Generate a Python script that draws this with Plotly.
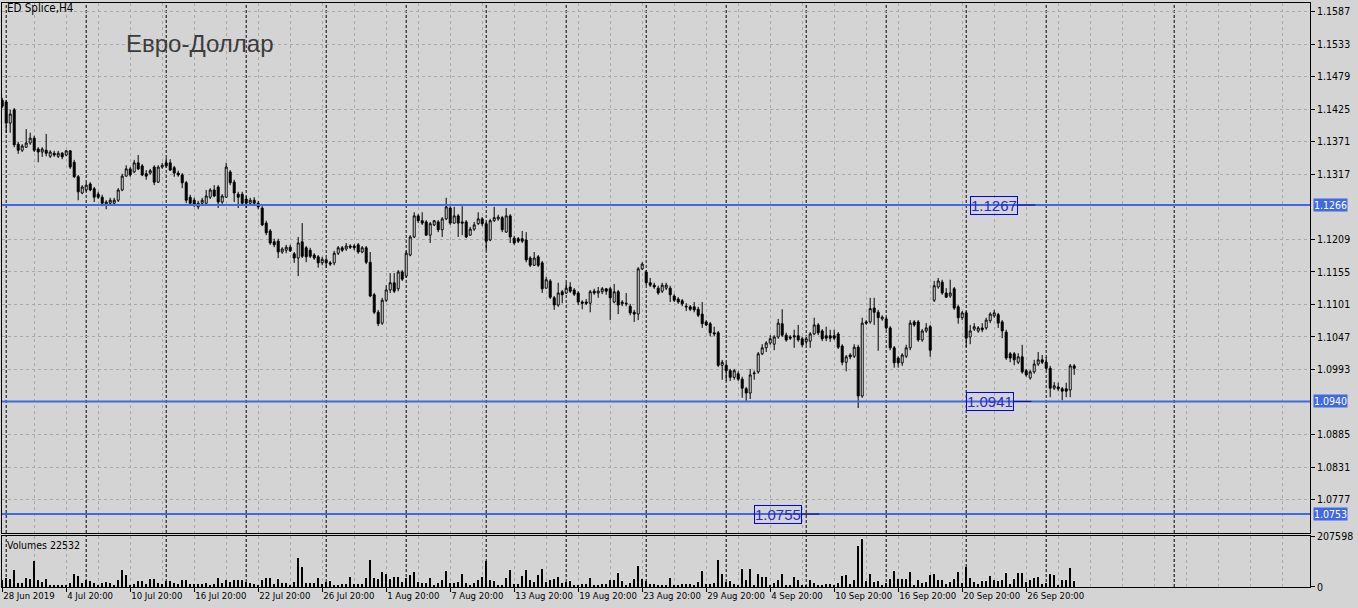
import plotly.graph_objects as go
from plotly.subplots import make_subplots

# ---------------- data (prices in pips: 11440 -> 1.1440) ----------------
open_pips = [11440,11437,11402,11424,11367,11357,11362,11369,11377,11359,
 11354,11357,11347,11352,11347,11352,11349,11356,11337,11313,
 11286,11291,11301,11293,11284,11279,11268,11269,11269,11274,
 11291,11314,11326,11321,11336,11331,11318,11319,11329,11304,
 11329,11336,11336,11328,11319,11316,11303,11279,11274,11263,
 11269,11269,11279,11291,11296,11271,11279,11321,11304,11284,
 11284,11276,11269,11274,11269,11261,11236,11223,11205,11206,
 11188,11191,11196,11185,11178,11205,11195,11191,11183,11180,
 11170,11175,11170,11170,11186,11195,11193,11198,11198,11200,
 11188,11195,11171,11117,11088,11070,11108,11125,11137,11127,
 11155,11148,11183,11213,11248,11240,11238,11216,11233,11238,
 11225,11243,11261,11236,11248,11238,11238,11216,11226,11235,
 11243,11235,11208,11240,11243,11245,11221,11248,11211,11210,
 11210,11208,11178,11166,11180,11170,11128,11140,11112,11100,
 11122,11120,11130,11125,11120,11105,11105,11103,11123,11120,
 11122,11127,11127,11105,11122,11102,11103,11098,11088,11085,
 11160,11155,11137,11133,11128,11123,11128,11128,11115,11110,
 11107,11098,11097,11097,11093,11085,11072,11069,11054,11054,
 11000,11000,10991,10980,10986,10977,10961,10954,10986,10989,
 11019,11029,11037,11035,11047,11069,11050,11047,11049,11049,
 11044,11039,11040,11052,11067,11057,11049,11049,11049,11052,
 11032,11005,11017,11015,11030,10949,11072,11072,11095,11088,
 11077,11077,11062,11029,11012,11004,11015,11029,11072,11072,
 11042,11057,11064,11108,11130,11138,11120,11115,11127,11097,
 11079,11087,11047,11060,11057,11062,11062,11074,11082,11084,
 11072,11055,11019,11019,11005,11014,10991,10979,10989,11002,
 11009,11005,10995,10962,10964,10961,10961,10959,10999]

high_pips = [11444,11440,11424,11427,11371,11367,11392,11386,11381,11362,
 11362,11384,11357,11356,11356,11354,11357,11357,11341,11316,
 11299,11303,11304,11296,11288,11283,11274,11278,11278,11294,
 11318,11332,11329,11341,11349,11334,11324,11326,11332,11332,
 11336,11344,11342,11331,11323,11319,11306,11283,11278,11273,
 11278,11291,11294,11299,11299,11284,11336,11324,11308,11288,
 11288,11281,11278,11279,11273,11264,11240,11226,11210,11210,
 11196,11200,11200,11188,11213,11236,11198,11195,11186,11183,
 11180,11178,11173,11190,11198,11198,11203,11201,11201,11203,
 11198,11198,11188,11120,11092,11112,11133,11153,11153,11158,
 11158,11190,11216,11254,11251,11254,11241,11238,11241,11241,
 11246,11278,11264,11263,11251,11264,11241,11230,11238,11254,
 11246,11238,11243,11263,11250,11248,11261,11251,11215,11213,
 11223,11221,11181,11188,11183,11173,11147,11143,11115,11137,
 11125,11137,11138,11128,11123,11108,11110,11125,11127,11130,
 11130,11128,11130,11135,11125,11108,11120,11102,11092,11163,
 11171,11158,11145,11137,11132,11137,11137,11132,11118,11113,
 11110,11103,11100,11105,11097,11105,11075,11072,11064,11057,
 11009,11004,10994,10994,10990,10981,10964,10994,10991,11022,
 11035,11040,11050,11050,11077,11093,11054,11050,11059,11067,
 11047,11047,11055,11079,11070,11060,11064,11059,11059,11055,
 11035,11017,11020,11035,11034,11079,11075,11112,11112,11092,
 11083,11080,11065,11032,11015,11020,11034,11075,11075,11075,
 11060,11070,11067,11140,11145,11142,11128,11142,11130,11100,
 11090,11090,11067,11070,11065,11070,11079,11088,11092,11087,
 11075,11059,11022,11022,11020,11034,10994,10992,11009,11022,
 11017,11014,10999,10972,10971,10964,10971,11002,11002]

low_pips = [11427,11386,11386,11362,11351,11354,11361,11366,11354,11337,
 11346,11347,11344,11346,11344,11342,11347,11326,11311,11274,
 11284,11288,11289,11271,11276,11264,11259,11266,11268,11271,
 11289,11313,11313,11319,11324,11314,11308,11316,11299,11303,
 11326,11328,11323,11313,11313,11294,11269,11266,11263,11259,
 11266,11268,11276,11279,11261,11268,11278,11299,11271,11261,
 11266,11261,11266,11266,11259,11231,11216,11200,11196,11178,
 11185,11186,11188,11170,11148,11178,11171,11178,11175,11162,
 11166,11162,11165,11166,11183,11188,11190,11193,11191,11185,
 11186,11168,11113,11085,11065,11067,11105,11120,11120,11123,
 11140,11145,11181,11211,11236,11233,11215,11203,11231,11221,
 11213,11241,11233,11235,11213,11216,11211,11215,11223,11233,
 11231,11191,11206,11238,11240,11221,11220,11203,11200,11203,
 11203,11171,11163,11165,11163,11120,11127,11110,11092,11097,
 11103,11118,11120,11115,11100,11093,11100,11088,11117,11112,
 11118,11117,11075,11103,11085,11098,11098,11083,11072,11075,
 11158,11133,11130,11127,11117,11120,11125,11105,11105,11102,
 11098,11090,11090,11088,11080,11062,11065,11048,11048,10997,
 10976,10974,10974,10976,10974,10946,10941,10944,10976,10986,
 11017,11022,11034,11025,11044,11047,11039,11042,11029,11039,
 11030,11034,11029,11050,11050,11040,11040,11039,11042,11027,
 11000,10990,11010,11012,10929,10946,11067,11069,11067,11024,
 11074,11059,11025,10996,10996,10999,11012,11025,11064,11039,
 11039,11054,11014,11105,11127,11117,11112,11112,11092,11069,
 11075,11030,11035,11057,11054,11055,11059,11070,11079,11062,
 11045,11009,11005,11000,11002,10986,10981,10976,10986,10999,
 11002,10992,10947,10959,10957,10942,10947,10947,10984]

close_pips = [11430,11402,11417,11366,11357,11364,11369,11377,11357,11354,
 11359,11352,11354,11349,11352,11346,11356,11329,11313,11288,
 11296,11299,11291,11279,11279,11269,11271,11274,11274,11291,
 11314,11326,11316,11336,11326,11316,11314,11323,11304,11329,
 11332,11331,11324,11319,11316,11303,11274,11269,11266,11269,
 11274,11281,11291,11281,11271,11281,11329,11303,11286,11279,
 11269,11269,11274,11269,11263,11233,11220,11203,11200,11188,
 11193,11196,11190,11178,11203,11181,11180,11181,11178,11170,
 11176,11170,11168,11186,11195,11191,11198,11196,11195,11188,
 11195,11171,11115,11088,11069,11108,11125,11137,11123,11155,
 11143,11186,11213,11248,11240,11236,11216,11235,11240,11225,
 11243,11263,11236,11248,11236,11236,11213,11226,11233,11243,
 11235,11206,11240,11245,11246,11225,11248,11213,11203,11206,
 11206,11175,11166,11178,11166,11127,11142,11113,11100,11120,
 11117,11128,11123,11118,11105,11103,11103,11122,11120,11123,
 11127,11123,11112,11122,11100,11105,11102,11087,11085,11160,
 11168,11137,11133,11130,11120,11133,11133,11117,11108,11105,
 11102,11097,11093,11092,11083,11069,11067,11054,11052,11000,
 11005,10991,10980,10991,10977,10962,10954,10984,10987,11019,
 11029,11037,11044,11047,11070,11050,11042,11045,11047,11042,
 11034,11044,11052,11067,11054,11044,11045,11045,11045,11030,
 11005,11014,11014,11030,10949,11070,11070,11094,11088,11079,
 11080,11062,11029,11004,11004,11017,11029,11070,11067,11042,
 11057,11062,11025,11132,11140,11120,11113,11120,11095,11079,
 11087,11045,11057,11064,11062,11059,11075,11085,11087,11070,
 11057,11012,11012,11009,11014,10989,10984,10989,11002,11009,
 11005,10995,10962,10966,10961,10957,10957,10999,10995]

volumes = [30000,34600,31800,69200,16600,16600,34600,31800,103800,27700,
 20800,31800,6900,6900,6900,6900,6900,16600,52600,44300,
 18000,27700,24900,16600,9700,16600,20800,18000,9700,27700,
 69200,48400,6900,13800,23500,23500,11100,31800,31800,18000,
 13800,24900,23500,16600,13800,27700,30400,13800,11100,11100,
 13800,16600,6900,11100,34600,16600,27700,20800,27700,27700,
 27700,20800,16600,11100,4200,30400,34600,34600,13800,31800,
 16600,16600,9700,20800,119000,83000,16600,16600,16600,34600,
 11100,20800,23500,9700,9700,13800,13800,41500,11100,13800,
 13800,34600,110700,34600,31800,62300,52600,31800,38800,38800,
 20800,34600,48400,59500,20800,18000,18000,34600,9700,18000,
 27700,63700,16600,18000,20800,52600,16600,9700,18000,30400,
 41500,103800,27700,23500,9700,9700,34600,69200,11100,13800,
 44300,69200,27700,20800,48400,73400,20800,27700,31800,41500,
 16600,20800,23500,6900,6900,13800,11100,34600,6900,6900,
 11100,11100,30400,30400,58100,24900,9700,18000,31800,85800,
 31800,24900,13800,13800,6900,6900,6900,34600,6900,6900,
 11100,13800,11100,6900,20800,65000,11100,11100,18000,110700,
 51200,20800,24900,11100,6900,73400,30400,73400,6900,52600,
 41500,41500,6900,16600,27700,52600,6900,6900,41500,27700,
 9700,6900,30400,16600,6900,6900,11100,11100,6900,16600,
 44300,48400,11100,27700,166100,193800,24900,54000,20800,24900,
 9700,18000,31800,65000,31800,31800,31800,59500,9700,30400,
 16600,20800,48400,51200,30400,27700,13800,20800,31800,59500,
 16600,83000,34600,20800,13800,24900,24900,44300,27700,24900,
 27700,58100,11100,31800,55400,55400,20800,27700,34600,38800,
 13800,16600,52600,48400,6900,27700,30400,76100,24900]

tick_bars = [0, 16, 32, 48, 64, 80, 96, 112, 128, 144, 160, 176, 192, 208, 224, 240, 256]
tick_labels = ["28 Jun 2019", "4 Jul 20:00", "10 Jul 20:00", "16 Jul 20:00", "22 Jul 20:00",
               "26 Jul 20:00", "1 Aug 20:00", "7 Aug 20:00", "13 Aug 20:00", "19 Aug 20:00",
               "23 Aug 20:00", "29 Aug 20:00", "4 Sep 20:00", "10 Sep 20:00", "16 Sep 20:00",
               "20 Sep 20:00", "26 Sep 20:00"]
separator_bars = [1, 21, 41, 61, 81, 101, 121, 141, 161, 181, 201, 221, 241, 261, 293]
price_ticks = [1.1587, 1.1533, 1.1479, 1.1425, 1.1371, 1.1317, 1.1209, 1.1155,
               1.1101, 1.1047, 1.0993, 1.0885, 1.0831, 1.0777]
level_prices = [1.1266, 1.0940, 1.0753]
level_texts = ["1.1266", "1.0940", "1.0753"]
tag_texts = ["1.1267", "1.0941", "1.0755"]
tag_bars = [248, 247, 194]
volume_max = 207598
volume_last = 22532

# ---------------- figure ----------------
S = 10000.0
o = [v / S for v in open_pips]
h = [v / S for v in high_pips]
l = [v / S for v in low_pips]
c = [v / S for v in close_pips]
idx = list(range(len(o)))

BG = "#d4d4d4"
GRID = "#a8a8a8"
FONT = "Liberation Sans Narrow, DejaVu Sans Condensed, sans-serif"
FS = 10.5

fig = make_subplots(rows=2, cols=1, shared_xaxes=True)

fig.add_trace(go.Candlestick(
    x=idx, open=o, high=h, low=l, close=c,
    increasing=dict(line=dict(color="black", width=1), fillcolor="white"),
    decreasing=dict(line=dict(color="black", width=1), fillcolor="black"),
    whiskerwidth=0, showlegend=False, hoverinfo="skip"), row=1, col=1)

fig.add_trace(go.Bar(
    x=idx, y=volumes, marker=dict(color="black", line=dict(width=0)),
    width=0.5, showlegend=False, hoverinfo="skip"), row=2, col=1)

xcommon = dict(range=[-0.05, 326.95], showline=True, mirror=True, linecolor="black",
               linewidth=1, showgrid=True, gridcolor=GRID, griddash="3px,3px", gridwidth=1,
               tickmode="array", tickvals=tick_bars, ticktext=tick_labels,
               minor=dict(tickmode="linear", tick0=0, dtick=8, showgrid=True,
                          gridcolor=GRID, griddash="3px,3px", ticks=""),
               zeroline=False, fixedrange=True, automargin=False)

tickfont = dict(family=FONT, size=FS, color="black")

fig.update_layout(
    width=1358, height=608,
    margin=dict(l=2, r=48, t=3, b=21),
    paper_bgcolor=BG, plot_bgcolor=BG,
    font=dict(family=FONT, size=FS, color="black"),
    bargap=0, hovermode=False,
    xaxis=dict(**xcommon, showticklabels=False, ticks="", rangeslider=dict(visible=False)),
    xaxis2=dict(**xcommon, showticklabels=True, ticks="outside", ticklen=4,
                tickcolor="black", ticklabelposition="outside right", tickangle=0,
                tickfont=dict(family=FONT, size=9.5, color="black")),
    yaxis=dict(domain=[0.0925, 1.0], range=[1.07216, 1.16014], side="right",
               tickmode="array", tickvals=price_ticks, ticktext=[f"{p:.4f}" for p in price_ticks],
               ticks="outside", ticklen=4, tickcolor="black",
               showgrid=True, gridcolor=GRID, griddash="3px,3px",
               showline=True, mirror=True, linecolor="black", zeroline=False,
               automargin=False, fixedrange=True, tickfont=tickfont),
    yaxis2=dict(domain=[0.0, 0.0873], range=[0, volume_max], side="right",
                tickmode="array", tickvals=[0, volume_max], ticktext=["0", str(volume_max)],
                ticks="outside", ticklen=4, tickcolor="black", showgrid=False,
                showline=True, mirror=True, linecolor="black", zeroline=False,
                automargin=False, fixedrange=True, tickfont=tickfont),
)

shapes = []
for sb in separator_bars:
    for yr in ("y domain", "y2 domain"):
        shapes.append(dict(type="line", xref="x", yref=yr, x0=sb, x1=sb, y0=0, y1=1,
                           line=dict(color="black", width=1, dash="3px,2px"), layer="below"))
for lv in level_prices:
    shapes.append(dict(type="line", xref="x domain", yref="y", x0=0, x1=1, y0=lv, y1=lv,
                       line=dict(color="#4169e1", width=2), layer="above"))

annotations = []
for lv, txt in zip(level_prices, level_texts):
    annotations.append(dict(xref="paper", x=1.0, xanchor="left", xshift=3, yref="y", y=lv,
                            text=txt, showarrow=False, bgcolor="#4169e1", borderpad=0,
                            font=dict(family=FONT, size=FS, color="white")))
for tb, lv, txt in zip(tag_bars, level_prices, tag_texts):
    annotations.append(dict(xref="x", x=tb, yref="y", y=lv, text=txt, showarrow=False,
                            bordercolor="#0000ff", borderwidth=1, borderpad=0,
                            font=dict(family="Liberation Sans", size=15, color="#2a2ad0")))
    shapes.append(dict(type="line", xref="x", yref="y", x0=tb + 6, x1=tb + 10.3, y0=lv, y1=lv,
                       line=dict(color="#101080", width=1), layer="above"))

annotations.append(dict(xref="paper", yref="paper", x=0.0935, y=0.9298, xanchor="left",
                        yanchor="middle", text="Евро-Доллар", showarrow=False,
                        font=dict(family="Liberation Sans", size=24, color="#3c3c3c")))
annotations.append(dict(xref="paper", yref="paper", x=0.002, y=0.991, xanchor="left",
                        yanchor="middle", text="ED Splice,H4", showarrow=False,
                        font=dict(family=FONT, size=11.5, color="black")))
annotations.append(dict(xref="paper", yref="paper", x=0.002, y=0.0719, xanchor="left",
                        yanchor="middle", text=f"Volumes {volume_last}", showarrow=False,
                        font=dict(family=FONT, size=FS, color="black")))

fig.update_layout(shapes=shapes, annotations=annotations)

fig.write_html("out.html", config={"displayModeBar": False},
               post_script="document.body.style.margin='0px';document.body.style.overflow='hidden';")
